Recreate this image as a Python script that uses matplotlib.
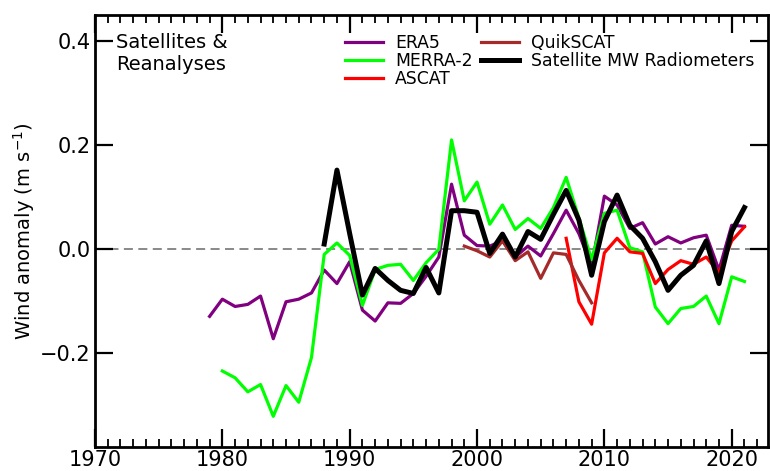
import matplotlib
matplotlib.use("Agg")
import matplotlib.pyplot as plt
from matplotlib.ticker import MultipleLocator

# ---- data ----
era5_years = list(range(1979, 2022))
era5 = [-0.129, -0.096, -0.110, -0.106, -0.090, -0.172, -0.101, -0.096, -0.084, -0.040,
        -0.066, -0.024, -0.117, -0.138, -0.103, -0.104, -0.085, -0.052, -0.015, 0.125,
        0.027, 0.007, 0.006, 0.016, -0.015, 0.006, -0.013, 0.030, 0.075, 0.030,
        -0.033, 0.102, 0.085, 0.040, 0.051, 0.010, 0.024, 0.012, 0.022, 0.027,
        -0.040, 0.046, 0.044]

merra2_years = list(range(1980, 2022))
merra2 = [-0.234, -0.247, -0.274, -0.260, -0.321, -0.262, -0.294, -0.208, -0.010, 0.012,
          -0.012, -0.108, -0.039, -0.031, -0.029, -0.060, -0.026, 0.000, 0.210, 0.093,
          0.129, 0.048, 0.085, 0.038, 0.059, 0.040, 0.080, 0.138, 0.060, -0.020,
          0.069, 0.075, 0.003, -0.005, -0.111, -0.143, -0.114, -0.110, -0.090, -0.143,
          -0.053, -0.062]

ascat_years = list(range(2007, 2022))
ascat = [0.021, -0.101, -0.144, -0.007, 0.021, -0.005, -0.008, -0.066, -0.039, -0.022,
         -0.029, -0.015, -0.045, 0.016, 0.043]

quikscat_years = list(range(1999, 2010))
quikscat = [0.006, -0.003, -0.015, 0.016, -0.022, -0.005, -0.056, -0.007, -0.010, -0.060,
            -0.103]

mw_years = list(range(1988, 2022))
mw = [0.010, 0.152, 0.030, -0.088, -0.037, -0.060, -0.079, -0.085, -0.035, -0.084,
      0.074, 0.074, 0.071, -0.008, 0.029, -0.015, 0.034, 0.019, 0.067, 0.113,
      0.056, -0.050, 0.053, 0.104, 0.046, 0.021, -0.024, -0.079, -0.050, -0.031,
      0.016, -0.066, 0.034, 0.080]

xticks = [1970, 1980, 1990, 2000, 2010, 2020]
yticks = [-0.2, 0.0, 0.2, 0.4]

fig = plt.figure(figsize=(7.7, 4.71), dpi=100)
ax = fig.add_axes([95 / 770, 1 - 447 / 471, (768 - 95) / 770, (447 - 15) / 471])

ax.axhline(0, color="grey", linestyle=(0, (5, 3)), linewidth=1.3, zorder=1)

l1, = ax.plot(era5_years, era5, color="#800080", lw=2.3, label="ERA5")
l2, = ax.plot(merra2_years, merra2, color="#00ff00", lw=2.3, label="MERRA-2")
l3, = ax.plot(ascat_years, ascat, color="#ff0000", lw=2.3, label="ASCAT")
l4, = ax.plot(quikscat_years, quikscat, color="#a52a2a", lw=2.3, label="QuikSCAT")
l5, = ax.plot(mw_years, mw, color="black", lw=3.6, label="Satellite MW Radiometers")

ax.set_xlim(1970, 2022.85)
ax.set_ylim(-0.38, 0.45)
ax.set_xticks(xticks)
ax.set_yticks(yticks)
ax.set_yticklabels(["\u22120.2", "0.0", "0.2", "0.4"])
ax.xaxis.set_minor_locator(MultipleLocator(1))
ax.tick_params(axis="both", which="major", direction="in", length=13, width=1.6,
               labelsize=15, top=True, right=True)
ax.tick_params(axis="both", which="minor", direction="in", length=6, width=1.3,
               top=True, right=False, left=False)
ax.tick_params(axis="x", which="major", pad=2)
ax.tick_params(axis="y", which="major", pad=3)
for s in ax.spines.values():
    s.set_linewidth(2)

ax.set_ylabel("Wind anomaly (m s$^{-1}$)", fontsize=14, labelpad=2)

ax.text(116 / 770, 1 - 33 / 471, "Satellites &\nReanalyses", transform=fig.transFigure,
        fontsize=14, va="top", ha="left", linespacing=1.2)

leg = ax.legend(handles=[l1, l2, l3, l4, l5], ncol=2, frameon=False, fontsize=12.4,
                loc="upper left", bbox_to_anchor=(345 / 770, 1 - 34 / 471),
                bbox_transform=fig.transFigure, borderpad=0, borderaxespad=0,
                handlelength=2.2, handletextpad=0.7, columnspacing=0.5,
                labelspacing=0.0)

fig.savefig("out.png", dpi=100)
